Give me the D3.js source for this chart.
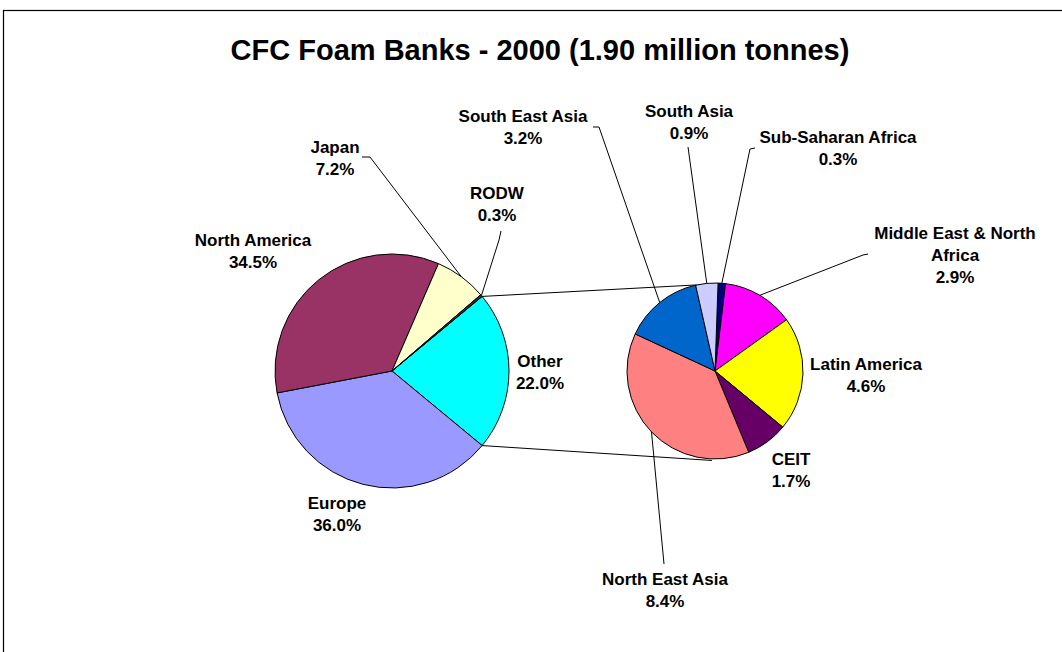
<!DOCTYPE html>
<html>
<head>
<meta charset="utf-8">
<script src="https://cdn.jsdelivr.net/npm/d3@7/dist/d3.min.js"></script>
<style>
  html, body { margin: 0; padding: 0; background: #fff; }
  svg { display: block; }
  text { font-family: "Liberation Sans", Arial, sans-serif; font-weight: bold; fill: #000; }
</style>
</head>
<body>
<svg id="chart" width="1062" height="652"></svg>
<script>
// ---- data ----
const title = "CFC Foam Banks - 2000 (1.90 million tonnes)";
const mainLabels = ["Other", "Europe", "North America", "Japan", "RODW"];
const mainValues = [22.0, 36.0, 34.5, 7.2, 0.3];
const mainColors = ["#00FFFF", "#9999FF", "#993366", "#FFFFCC", "#333333"];

const subLabels = ["Sub-Saharan Africa", "Middle East & North Africa", "Latin America", "CEIT", "North East Asia", "South East Asia", "South Asia"];
const subValues = [0.3, 2.9, 4.6, 1.7, 8.4, 3.2, 0.9];
const subColors = ["#000080", "#FF00FF", "#FFFF00", "#660066", "#FF8080", "#0066CC", "#CCCCFF"];

// ---- layout ----
const W = 1062, H = 652;
const mainC = { x: 392, y: 371, r: 117 };
const subC = { x: 715, y: 371, r: 88 };
const subStartDeg = 2;
const fontSize = 17, lineH = 22;

// label layout: lines, center x, first baseline y, leader elbow points (slice end computed)
const mainLabelLayout = {
  "Other":         { lines: ["Other", "22.0%"], x: 540, y: 367 },
  "Europe":        { lines: ["Europe", "36.0%"], x: 337, y: 509 },
  "North America": { lines: ["North America", "34.5%"], x: 253, y: 246 },
  "Japan":         { lines: ["Japan", "7.2%"], x: 335, y: 153, leader: [[362, 157], [370, 157]] },
  "RODW":          { lines: ["RODW", "0.3%"], x: 497, y: 199, leader: [[501, 231], [499, 240]] }
};
const subLabelLayout = {
  "Sub-Saharan Africa":         { lines: ["Sub-Saharan Africa", "0.3%"], x: 838, y: 143, leader: [[755, 148], [750, 149]] },
  "Middle East & North Africa": { lines: ["Middle East & North", "Africa", "2.9%"], x: 955, y: 239, leader: [[868, 254], [863, 255]] },
  "Latin America":              { lines: ["Latin America", "4.6%"], x: 866, y: 370 },
  "CEIT":                       { lines: ["CEIT", "1.7%"], x: 791, y: 465 },
  "North East Asia":            { lines: ["North East Asia", "8.4%"], x: 665, y: 585, leader: [[664, 564]] },
  "South East Asia":            { lines: ["South East Asia", "3.2%"], x: 523, y: 122, leader: [[593, 127], [599, 127]] },
  "South Asia":                 { lines: ["South Asia", "0.9%"], x: 689, y: 117, leader: [[688, 147]] }
};

const svg = d3.select("#chart");
const rad = d => d * Math.PI / 180;

// frame
svg.append("rect").attr("x", 3.5).attr("y", 10.5).attr("width", 1200).attr("height", 1000)
  .attr("fill", "none").attr("stroke", "#000").attr("stroke-width", 1.2);

// title
svg.append("text").attr("x", 540).attr("y", 60).attr("text-anchor", "middle")
  .style("font-size", "29px").text(title);

// main pie
const mainSpan = mainValues[0] / d3.sum(mainValues) * 2 * Math.PI;
const mainStart = Math.PI / 2 - mainSpan / 2;
const mainPie = d3.pie().sort(null).value(d => d.v).startAngle(mainStart).endAngle(mainStart + 2 * Math.PI);
const mainData = mainPie(mainLabels.map((l, i) => ({ l, v: mainValues[i], c: mainColors[i] })));
const mainArc = d3.arc().innerRadius(0).outerRadius(mainC.r);

const gMain = svg.append("g").attr("transform", `translate(${mainC.x},${mainC.y})`);
gMain.selectAll("path").data(mainData).join("path")
  .attr("d", mainArc).attr("fill", d => d.data.c).attr("stroke", "#000").attr("stroke-width", 1);

// sub pie
const subStart = rad(subStartDeg);
const subPie = d3.pie().sort(null).value(d => d.v).startAngle(subStart).endAngle(subStart + 2 * Math.PI);
const subData = subPie(subLabels.map((l, i) => ({ l, v: subValues[i], c: subColors[i] })));
const subArc = d3.arc().innerRadius(0).outerRadius(subC.r);

const gSub = svg.append("g").attr("transform", `translate(${subC.x},${subC.y})`);
gSub.selectAll("path").data(subData).join("path")
  .attr("d", subArc).attr("fill", d => d.data.c).attr("stroke", "#000").attr("stroke-width", 1);

// connector lines between the "Other" slice and the sub pie
const pt = (c, a, r) => [c.x + r * Math.sin(a), c.y - r * Math.cos(a)];
const other = mainData[0];
const connectors = [
  [pt(mainC, other.startAngle, mainC.r), pt(subC, rad(-12), subC.r)],
  [pt(mainC, other.endAngle, mainC.r), pt(subC, rad(182), subC.r + 1.5)]
];
svg.selectAll("line.conn").data(connectors).join("line").attr("class", "conn")
  .attr("x1", d => d[0][0]).attr("y1", d => d[0][1]).attr("x2", d => d[1][0]).attr("y2", d => d[1][1])
  .attr("stroke", "#000").attr("stroke-width", 1);

// labels and leader lines
const line = d3.line();
function drawLabels(data, layout, c) {
  data.forEach(d => {
    const L = layout[d.data.l];
    if (!L) return;
    const t = svg.append("text").attr("text-anchor", "middle").style("font-size", fontSize + "px");
    L.lines.forEach((s, i) => t.append("tspan").attr("x", L.x).attr("y", L.y + i * lineH).text(s));
    if (L.leader) {
      const mid = (d.startAngle + d.endAngle) / 2;
      const pts = L.leader.concat([pt(c, mid, c.r)]);
      svg.append("path").attr("d", line(pts)).attr("fill", "none").attr("stroke", "#000").attr("stroke-width", 1);
    }
  });
}
drawLabels(mainData, mainLabelLayout, mainC);
drawLabels(subData, subLabelLayout, subC);
</script>
</body>
</html>
